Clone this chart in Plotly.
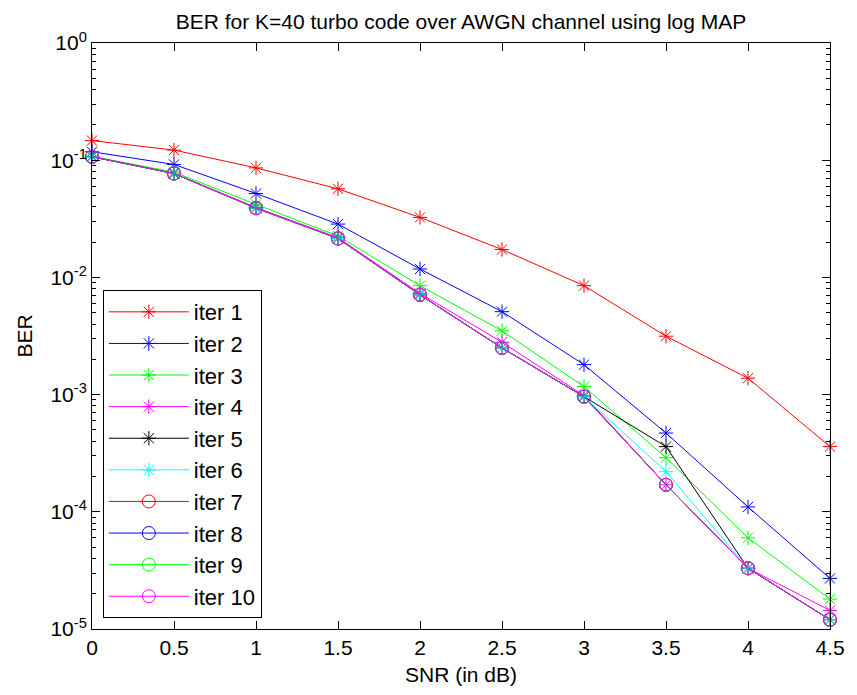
import plotly.graph_objects as go

snr = [0, 0.5, 1, 1.5, 2, 2.5, 3, 3.5, 4, 4.5]

iter1 = [0.147, 0.122, 0.086, 0.057, 0.0325, 0.0173, 0.0085, 0.00315, 0.00138, 0.00036]
iter2 = [0.118, 0.092, 0.052, 0.0285, 0.0118, 0.0051, 0.0018, 0.00047, 0.00011, 0.000027]
iter3 = [0.108, 0.079, 0.042, 0.0225, 0.0085, 0.0035, 0.00117, 0.00029, 0.00006, 0.000018]
iter4 = [0.107, 0.077, 0.0395, 0.0218, 0.0073, 0.0028, 0.00098, 0.00017, 0.000033, 0.0000144]
iter5 = [0.107, 0.077, 0.039, 0.0215, 0.0071, 0.0025, 0.00096, 0.00036, 0.000033, 0.000012]
iter6 = [0.107, 0.077, 0.039, 0.0215, 0.0071, 0.0025, 0.00096, 0.00022, 0.000033, 0.000012]
iter7 = [0.107, 0.077, 0.039, 0.0215, 0.0071, 0.0025, 0.00096, 0.00017, 0.000033, 0.000012]
iter8 = [0.107, 0.077, 0.039, 0.0215, 0.0071, 0.0025, 0.00096, 0.00017, 0.000033, 0.000012]
iter9 = [0.107, 0.077, 0.039, 0.0215, 0.0071, 0.0025, 0.00096, 0.00017, 0.000033, 0.000012]
iter10 = [0.107, 0.077, 0.039, 0.0215, 0.0071, 0.0025, 0.00096, 0.00017, 0.000033, 0.000012]

series = [iter1, iter2, iter3, iter4, iter5, iter6, iter7, iter8, iter9, iter10]
names = ["iter 1", "iter 2", "iter 3", "iter 4", "iter 5", "iter 6", "iter 7", "iter 8", "iter 9", "iter 10"]
colors = ["#FF0000", "#0000FF", "#00FF00", "#FF00FF", "#000000", "#00FFFF",
          "#FF0000", "#0000FF", "#00FF00", "#FF00FF"]
symbols = ["asterisk-open"] * 6 + ["circle-open"] * 4

x_ticks = [0, 0.5, 1, 1.5, 2, 2.5, 3, 3.5, 4, 4.5]
x_ticktext = ["0", "0.5", "1", "1.5", "2", "2.5", "3", "3.5", "4", "4.5"]
y_ticks = [1e-5, 1e-4, 1e-3, 1e-2, 1e-1, 1e0]
y_ticktext = ["10<sup>-5</sup>", "10<sup>-4</sup>", "10<sup>-3</sup>", "10<sup>-2</sup>",
              "10<sup>-1</sup>", "10<sup>0</sup>"]
y_minor = [m * 10.0 ** e for e in range(-5, 0) for m in range(2, 10)]

FONT = "Liberation Sans, Arial, sans-serif"

fig = go.Figure()
for vals, nm, col, sym in zip(series, names, colors, symbols):
    fig.add_trace(go.Scatter(
        x=snr, y=vals, name=nm, mode="lines+markers",
        line=dict(color=col, width=1),
        marker=dict(symbol=sym, size=13 if sym == "circle-open" else 12,
                    color=col, line=dict(color=col, width=1)),
        cliponaxis=False,
    ))

axis_common = dict(
    showline=True, linecolor="black", linewidth=1, mirror="allticks",
    ticks="inside", ticklen=8, tickcolor="black", tickwidth=1,
    showgrid=False, zeroline=False,
    tickfont=dict(family=FONT, size=21, color="black"),
)

fig.update_xaxes(
    range=[0, 4.5], tickvals=x_ticks, ticktext=x_ticktext,
    title=dict(text="SNR (in dB)", font=dict(family=FONT, size=21, color="black"), standoff=9),
    **axis_common,
)
fig.update_yaxes(
    type="log", range=[-5, 0], tickvals=y_ticks, ticktext=y_ticktext,
    minor=dict(tickvals=y_minor, ticks="inside", ticklen=4, tickcolor="black", showgrid=False),
    title=dict(text="BER", font=dict(family=FONT, size=21, color="black"), standoff=12),
    **axis_common,
)

fig.update_layout(
    width=857, height=695,
    margin=dict(l=92, r=17, t=43, b=63),
    paper_bgcolor="white", plot_bgcolor="white",
    title=dict(text="BER for K=40 turbo code over AWGN channel using log MAP",
               font=dict(family=FONT, size=21, color="black"),
               x=0.5, xref="paper", xanchor="center", y=1, yref="paper", yanchor="bottom",
               pad=dict(b=14)),
    legend=dict(
        x=0.0147, y=0.0187, xanchor="left", yanchor="bottom",
        bgcolor="white", bordercolor="black", borderwidth=1,
        font=dict(family=FONT, size=22, color="black"),
        itemwidth=80, tracegroupgap=0,
    ),
    showlegend=True,
)

fig.write_html("out.html")
